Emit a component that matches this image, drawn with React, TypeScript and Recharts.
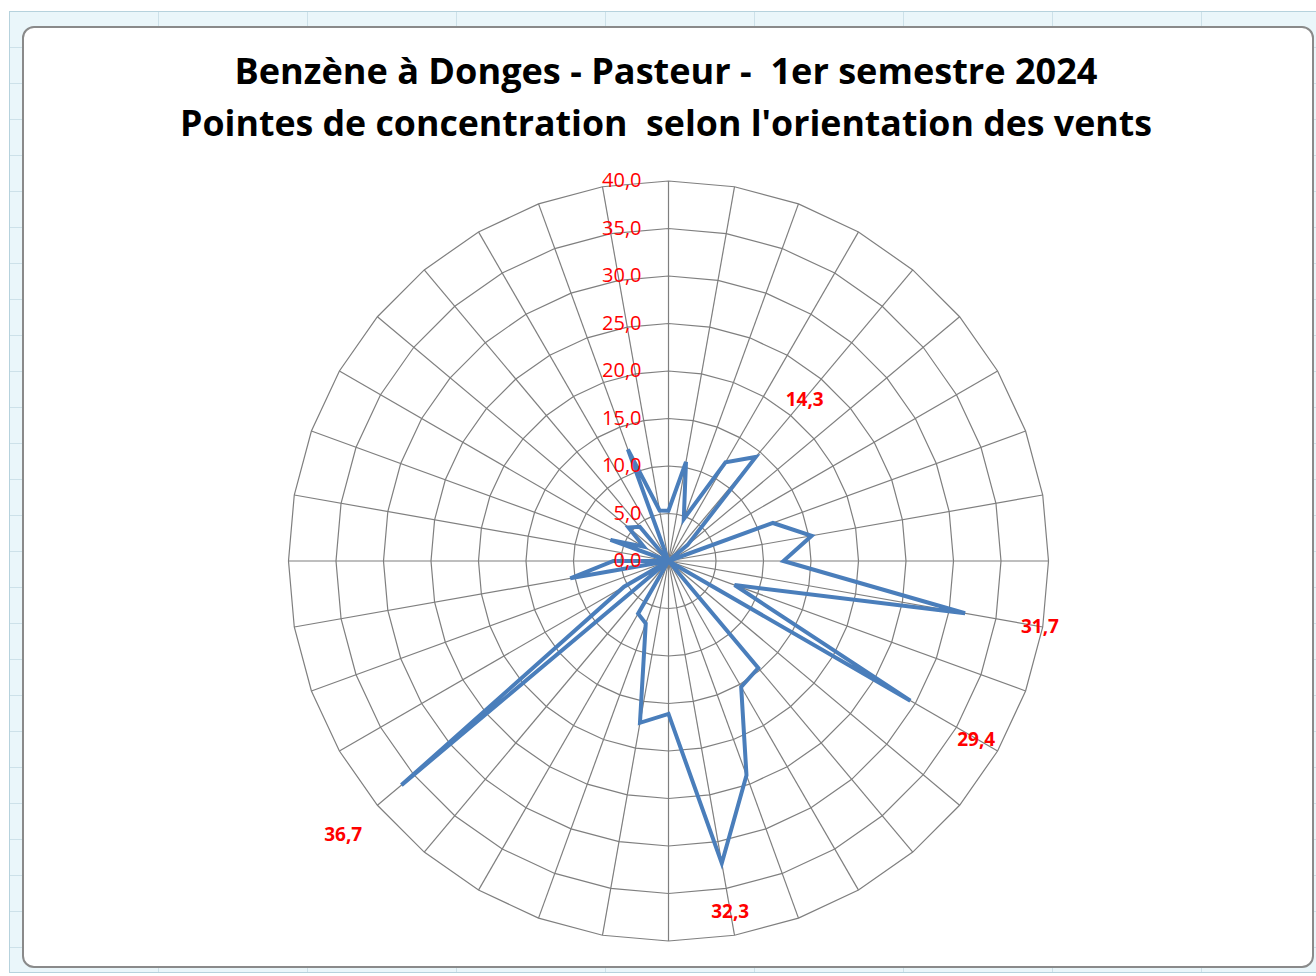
import React from 'react';
import { RadarChart, Radar, PolarGrid, PolarAngleAxis, PolarRadiusAxis, LabelList } from 'recharts';

// wind directions (degrees), clockwise from north
const directions = [
  '0°', '10°', '20°', '30°', '40°', '50°', '60°', '70°', '80°',
  '90°', '100°', '110°', '120°', '130°', '140°', '150°', '160°', '170°',
  '180°', '190°', '200°', '210°', '220°', '230°', '240°', '250°', '260°',
  '270°', '280°', '290°', '300°', '310°', '320°', '330°', '340°', '350°',
];

// benzene peaks (µg/m3) per direction, null = no measurement
const peaks = [
  5.3, 10.6, 4.7, 12.0, 14.3, 2.6, null, 11.7, 15.3,
  12.1, 31.7, 7.4, 29.4, null, 14.7, 15.3, 24.0, 32.3,
  16.1, 17.3, 7.0, 6.4, null, 36.7, 5.4, null, 10.5,
  5.8, null, 6.5, 3.0, 5.5, 4.7, null, 12.5, 5.4,
];

// directions whose value is written on the chart
const labelledDirections = ['40°', '100°', '120°', '170°', '230°'];

const radiusTicks = [0, 5, 10, 15, 20, 25, 30, 35, 40];

const CX = 668.5;
const CY = 561;
const R = 380;

const chartData = directions.map((dir, i) => ({
  dir,
  peak: peaks[i],
  label: labelledDirections.includes(dir) ? peaks[i] : null,
}));

const fmt = (v: number) => v.toFixed(1).replace('.', ',');

const RadiusTick = (props: any) => {
  const { x, y, payload } = props;
  return (
    <text x={x - 27} y={y} dy={6} textAnchor="end" fill="#ff0000" fontSize={20} fontFamily="'Open Sans', sans-serif">
      {fmt(payload.value)}
    </text>
  );
};

const PeakLabel = (props: any) => {
  const { x, y, value } = props;
  if (value == null) return null;
  const dx = x - CX;
  const dy = y - CY;
  const d = Math.sqrt(dx * dx + dy * dy) || 1;
  let lx = x + (dx / d) * 76;
  let ly = y + (dy / d) * 76;
  const maxY = CY + 350;
  if (ly > maxY) {
    const k = (maxY - CY) / (ly - CY);
    lx = CX + (lx - CX) * k;
    ly = maxY;
  }
  return (
    <text x={lx} y={ly} dy={7} textAnchor="middle" fill="#ff0000" fontSize={19} fontWeight={700} fontFamily="'Open Sans', sans-serif">
      {fmt(value)}
    </text>
  );
};

const App: React.FC = () => {
  return (
    <div style={{ position: 'fixed', left: 0, top: 0, width: 1316, height: 976, background: '#ffffff', overflow: 'hidden' }}>
      {/* sheet selection frame */}
      <div
        style={{
          position: 'absolute', left: 9, top: 11, width: 1320, height: 962,
          background: '#eaf6fa',
          backgroundImage:
            'repeating-linear-gradient(to bottom, transparent 0, transparent 35px, #cde1e9 35px, #cde1e9 36px), repeating-linear-gradient(to right, transparent 0, transparent 148px, #cde1e9 148px, #cde1e9 149px)',
          border: '1px solid #b6d2dd',
          boxSizing: 'border-box',
        }}
      />
      {/* chart area */}
      <div
        style={{
          position: 'absolute', left: 22, top: 26, width: 1292, height: 942,
          background: '#ffffff', border: '2px solid #8a8a8a', borderRadius: 12,
          boxSizing: 'border-box',
        }}
      />
      <div style={{ position: 'absolute', left: 0, top: 0 }}>
        <RadarChart
          width={1316}
          height={976}
          data={chartData}
          cx={CX}
          cy={CY}
          outerRadius={R}
          margin={{ top: 0, right: 0, bottom: 0, left: 0 }}
        >
          <PolarGrid stroke="#7f7f7f" strokeWidth={1.2} gridType="polygon" />
          <PolarAngleAxis dataKey="dir" tick={false} axisLine={false} tickLine={false} />
          <PolarRadiusAxis
            angle={90}
            domain={[0, 40]}
            ticks={radiusTicks}
            tick={<RadiusTick />}
            axisLine={false}
            tickLine={false}
          />
          <Radar
            dataKey="peak"
            stroke="#4a7ebb"
            strokeWidth={4}
            strokeLinejoin="miter"
            fill="none"
            fillOpacity={0}
            dot={false}
            connectNulls
            isAnimationActive={false}
          >
            <LabelList dataKey="label" content={<PeakLabel />} />
          </Radar>
        </RadarChart>
      </div>
      <svg width={1316} height={160} style={{ position: 'absolute', left: 0, top: 0, pointerEvents: 'none' }}>
        <text x={666} y={84} textAnchor="middle" fontSize={36} fontWeight={700} fontFamily="'Open Sans', sans-serif" fill="#000" textLength={863} lengthAdjust="spacingAndGlyphs" style={{ whiteSpace: 'pre' }}>
          {'Benzène à Donges - Pasteur -  1er semestre 2024'}
        </text>
        <text x={666} y={136} textAnchor="middle" fontSize={36} fontWeight={700} fontFamily="'Open Sans', sans-serif" fill="#000" textLength={972} lengthAdjust="spacingAndGlyphs" style={{ whiteSpace: 'pre' }}>
          {"Pointes de concentration  selon l'orientation des vents"}
        </text>
      </svg>
    </div>
  );
};

export default App;
